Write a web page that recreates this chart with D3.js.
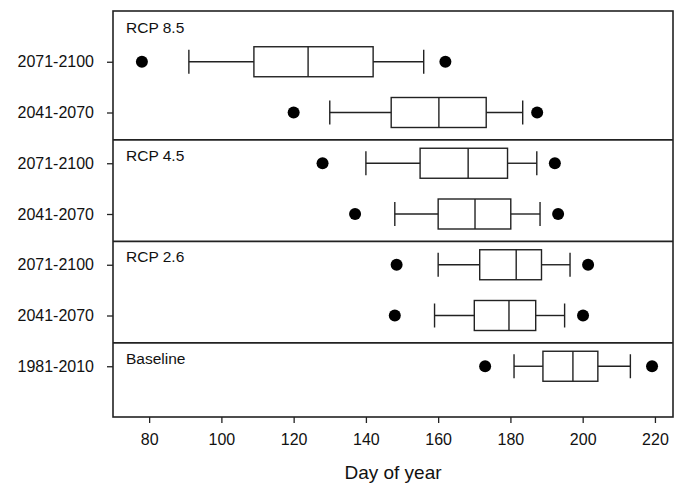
<!DOCTYPE html>
<html>
<head>
<meta charset="utf-8">
<script src="https://cdn.jsdelivr.net/npm/d3@7"></script>
<style>
  body { margin: 0; background: #fff; }
  svg { font-family: "Liberation Sans", Arial, sans-serif; }
</style>
</head>
<body>
<div id="chart"></div>
<script>
// Data (day of year), top row first
var periods = ["2071-2100", "2041-2070", "2071-2100", "2041-2070", "2071-2100", "2041-2070", "1981-2010"];
var scenarios = ["RCP 8.5", "RCP 4.5", "RCP 2.6", "Baseline"];
var lowOutlier  = [78, 120, 128, 137, 148.5, 148, 173];
var lowWhisker  = [91, 130, 140, 148, 160, 159, 181];
var q1          = [109, 147, 155, 160, 171.5, 170, 189];
var median      = [124, 160.2, 168.3, 170.2, 181.6, 179.6, 197.3];
var q3          = [142, 173.3, 179.2, 180.1, 188.6, 187, 204.2];
var highWhisker = [156, 183.4, 187.3, 188.2, 196.5, 195, 213.2];
var highOutlier = [162, 187.4, 192.3, 193.2, 201.5, 200.1, 219.2];
var xTicks = [80, 100, 120, 140, 160, 180, 200, 220];

var W = 683, H = 483;
var margin = { top: 11, right: 10, bottom: 66, left: 113 },
    width = W - margin.left - margin.right,
    height = H - margin.top - margin.bottom;

var x = d3.scaleLinear().domain([70, 225]).range([0, width]);
var y = d3.scaleLinear().domain([0, 8]).range([0, height]);

var rows = periods.map(function (p, i) {
    return { row: i + 1, lo: lowOutlier[i], lw: lowWhisker[i], q1: q1[i], med: median[i],
             q3: q3[i], hw: highWhisker[i], ho: highOutlier[i] };
});

var svg = d3.select("#chart").append("svg")
    .attr("width", W)
    .attr("height", H)
    .append("g")
    .attr("transform", "translate(" + margin.left + "," + margin.top + ")");

var ink = "#222";
var boxH = 15, capH = 12;

// Panel dividers (between scenario groups)
var dividers = [2.54, 4.54, 6.54];
svg.selectAll(".divider")
    .data(dividers)
    .enter().append("line")
    .attr("x1", 0).attr("x2", width)
    .attr("y1", function (d) { return y(d); })
    .attr("y2", function (d) { return y(d); })
    .attr("stroke", ink)
    .attr("stroke-width", 1.6);

// Panel labels
var panelTops = [0].concat(dividers);
svg.selectAll(".panel-label")
    .data(scenarios)
    .enter().append("text")
    .attr("x", 13)
    .attr("y", function (d, i) { return y(panelTops[i]) + (i === 0 ? 22 : 21); })
    .style("font-size", "15.5px")
    .style("fill", "#111")
    .text(function (d) { return d; });

// Boxplots
var g = svg.selectAll(".box")
    .data(rows)
    .enter().append("g")
    .attr("class", "box");

g.append("line")
    .attr("x1", function (d) { return x(d.lw); })
    .attr("x2", function (d) { return x(d.q1); })
    .attr("y1", function (d) { return y(d.row); })
    .attr("y2", function (d) { return y(d.row); });
g.append("line")
    .attr("x1", function (d) { return x(d.q3); })
    .attr("x2", function (d) { return x(d.hw); })
    .attr("y1", function (d) { return y(d.row); })
    .attr("y2", function (d) { return y(d.row); });
g.append("line")
    .attr("x1", function (d) { return x(d.lw); })
    .attr("x2", function (d) { return x(d.lw); })
    .attr("y1", function (d) { return y(d.row) - capH; })
    .attr("y2", function (d) { return y(d.row) + capH; });
g.append("line")
    .attr("x1", function (d) { return x(d.hw); })
    .attr("x2", function (d) { return x(d.hw); })
    .attr("y1", function (d) { return y(d.row) - capH; })
    .attr("y2", function (d) { return y(d.row) + capH; });
g.append("rect")
    .attr("x", function (d) { return x(d.q1); })
    .attr("width", function (d) { return x(d.q3) - x(d.q1); })
    .attr("y", function (d) { return y(d.row) - boxH; })
    .attr("height", boxH * 2)
    .attr("fill", "none");
g.append("line")
    .attr("x1", function (d) { return x(d.med); })
    .attr("x2", function (d) { return x(d.med); })
    .attr("y1", function (d) { return y(d.row) - boxH; })
    .attr("y2", function (d) { return y(d.row) + boxH; });
g.selectAll("line, rect")
    .attr("stroke", ink)
    .attr("stroke-width", 1.4);

g.append("circle")
    .attr("cx", function (d) { return x(d.lo); })
    .attr("cy", function (d) { return y(d.row); })
    .attr("r", 6)
    .attr("fill", "#000");
g.append("circle")
    .attr("cx", function (d) { return x(d.ho); })
    .attr("cy", function (d) { return y(d.row); })
    .attr("r", 6)
    .attr("fill", "#000");

// Frame
svg.append("rect")
    .attr("width", width)
    .attr("height", height)
    .attr("fill", "none")
    .attr("stroke", ink)
    .attr("stroke-width", 1.6);

// Axes
var xAxis = svg.append("g")
    .attr("transform", "translate(0," + height + ")")
    .call(d3.axisBottom(x).tickValues(xTicks).tickSize(6).tickPadding(11).tickSizeOuter(0));
var yAxis = svg.append("g")
    .call(d3.axisLeft(y).tickValues(d3.range(1, 8)).tickSize(6).tickPadding(13)
        .tickFormat(function (d) { return periods[d - 1]; }));

[xAxis, yAxis].forEach(function (a) {
    a.select(".domain").remove();
    a.selectAll("line").attr("stroke", ink).attr("stroke-width", 1.3);
    a.selectAll("text")
        .style("font-family", "'Liberation Sans', Arial, sans-serif")
        .style("font-size", "16px")
        .style("fill", "#111");
});

// X axis label
svg.append("text")
    .attr("x", width / 2)
    .attr("y", height + 62)
    .style("text-anchor", "middle")
    .style("font-size", "19px")
    .style("fill", "#111")
    .text("Day of year");
</script>
</body>
</html>
